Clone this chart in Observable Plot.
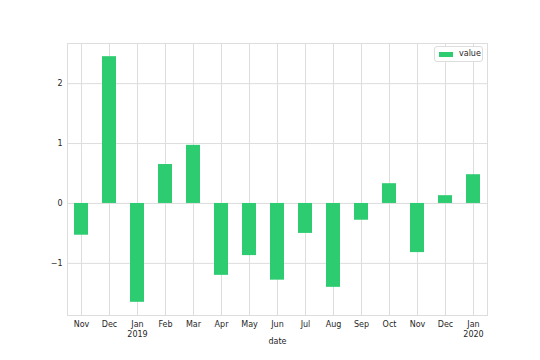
<!DOCTYPE html>
<html><head><meta charset="utf-8">
<script src="https://cdn.jsdelivr.net/npm/d3@7"></script>
<script src="https://cdn.jsdelivr.net/npm/@observablehq/plot@0.6"></script>
<style>
body{margin:0;background:#fff;font-family:"DejaVu Sans",sans-serif;}
#wrap{position:relative;width:540px;height:360px;}
#legend{position:absolute;left:434px;top:46px;width:49px;height:16px;border:1px solid #ddd;border-radius:3px;background:#fff;font-size:8px;color:#262626;box-sizing:border-box;}
#legend .sw{position:absolute;left:4px;top:5px;width:14px;height:5px;background:#2ecc71;}
#legend .t{position:absolute;left:24px;top:2px;}
</style></head>
<body><div id="wrap"><div id="legend"><span class="sw"></span><span class="t">value</span></div></div>
<script>
const dates = ["2018-11","2018-12","2019-01","2019-02","2019-03","2019-04","2019-05","2019-06","2019-07","2019-08","2019-09","2019-10","2019-11","2019-12","2020-01"];
const tickLabels = ["Nov","Dec","Jan\n2019","Feb","Mar","Apr","May","Jun","Jul","Aug","Sep","Oct","Nov","Dec","Jan\n2020"];
const values = [-0.53,2.45,-1.65,0.65,0.97,-1.2,-0.87,-1.28,-0.5,-1.4,-0.28,0.33,-0.82,0.13,0.48];
const data = dates.map((d,i)=>({date:d, value:values[i]}));
const lab = new Map(dates.map((d,i)=>[d,tickLabels[i]]));
const chart = Plot.plot({
  width:540, height:360,
  marginLeft:67, marginRight:53, marginTop:43, marginBottom:45,
  style:{fontFamily:"DejaVu Sans, sans-serif", fontSize:"8px", color:"#262626", background:"#fff"},
  x:{domain:dates, paddingInner:0.5, paddingOuter:0.25, label:null},
  y:{domain:[-1.87,2.67], label:null},
  marks:[
    Plot.gridX(dates,{x:d=>d, stroke:"#ddd", strokeOpacity:1}),
    Plot.gridY([-1,0,1,2],{stroke:"#ddd", strokeOpacity:1}),
    Plot.frame({stroke:"#ddd"}),
    Plot.barY(data,{x:"date", y:"value", fill:"#2ecc71"}),
    Plot.axisX({tickSize:0, tickPadding:5, lineHeight:1.2, fontSize:8, tickFormat:d=>lab.get(d), label:null}),
    Plot.axisY({ticks:[-1,0,1,2], tickSize:0, tickPadding:5, fontSize:8, tickFormat:d=>d<0?"\u2212"+(-d):String(d), label:null}),
    Plot.text(["date"],{frameAnchor:"bottom", dy:28, text:d=>d, fill:"#262626", fontSize:8})
  ]
});
document.getElementById("wrap").prepend(chart);
</script></body></html>
